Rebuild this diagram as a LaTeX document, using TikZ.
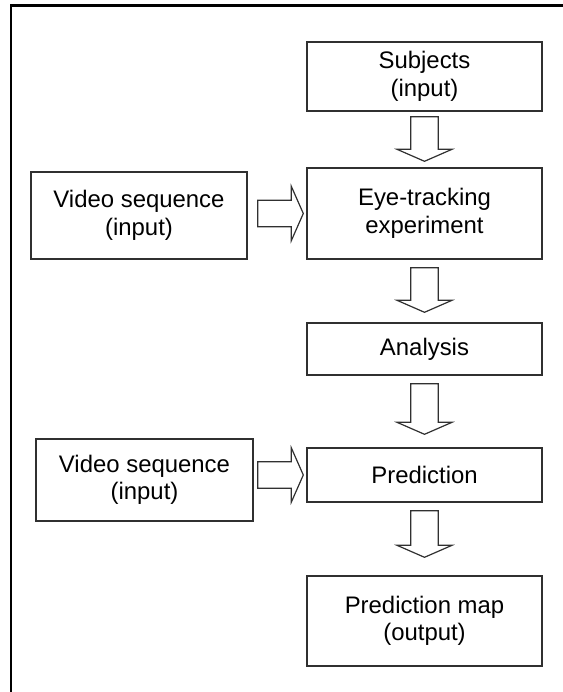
\documentclass[tikz,border=0pt]{standalone}
\usepackage{fontspec}
\setmainfont{Liberation Sans}
\usetikzlibrary{calc}
\definecolor{boxgray}{HTML}{303030}
\newcommand\blkdown[4]{%
  \draw[blk] ($(#1.south)+(-13.8,#3)$) -- ($(#1.south)+(13.8,#3)$)
    -- ($(#2.north)+(13.8,-#4-12)$) -- ($(#2.north)+(27.5,-#4-12)$)
    -- ($(#2.north)+(0,-#4)$) -- ($(#2.north)+(-27.5,-#4-12)$)
    -- ($(#2.north)+(-13.8,-#4-12)$) -- cycle;}
\newcommand\blkright[3]{%
  \draw[blk] ($(#1.east |- #2.west)+(#3,-13.3)$) -- ($(#2.west)+(-15,-13.3)$)
    -- ($(#2.west)+(-15,-27.2)$) -- ($(#2.west)+(-3,0)$)
    -- ($(#2.west)+(-15,27.2)$) -- ($(#2.west)+(-15,13.3)$)
    -- ($(#1.east |- #2.west)+(#3,13.3)$) -- cycle;}
\begin{document}
\begin{tikzpicture}[x=1bp,y=-1bp,
  box/.style={draw=boxgray,line width=1.4bp,inner sep=0pt,align=center,
    font=\fontsize{24}{27.5}\selectfont},
  blk/.style={draw=boxgray,line width=1.2bp,fill=white,line join=miter}]
\useasboundingbox (0,0) rectangle (563,692);
\draw[line width=2.6bp] (11,692) -- (11,5.5) -- (563,5.5);
\node[box,minimum width=235bp,minimum height=69bp] (subj) at (424.5,76.5) {Subjects\\(input)};
\node[box,minimum width=235bp,minimum height=91bp] (eye) at (424.5,213.5) {Eye-tracking\\experiment};
\node[box,minimum width=235bp,minimum height=52bp] (ana) at (424.5,349) {Analysis};
\node[box,minimum width=235bp,minimum height=54bp] (pred) at (424.5,475) {Prediction};
\node[box,minimum width=235bp,minimum height=90bp] (map) at (424.5,621) {Prediction map\\(output)};
\node[box,minimum width=216bp,minimum height=87bp] (vid1) at (139,215.5) {Video sequence\\(input)};
\node[box,minimum width=217bp,minimum height=82bp] (vid2) at (144.5,480) {Video sequence\\(input)};
\blkdown{subj}{eye}{5}{6}
\blkdown{eye}{ana}{8}{10}
\blkdown{ana}{pred}{8}{13}
\blkdown{pred}{map}{8}{18}
\blkright{vid1}{eye}{10}
\blkright{vid2}{pred}{4}
\end{tikzpicture}
\end{document}
